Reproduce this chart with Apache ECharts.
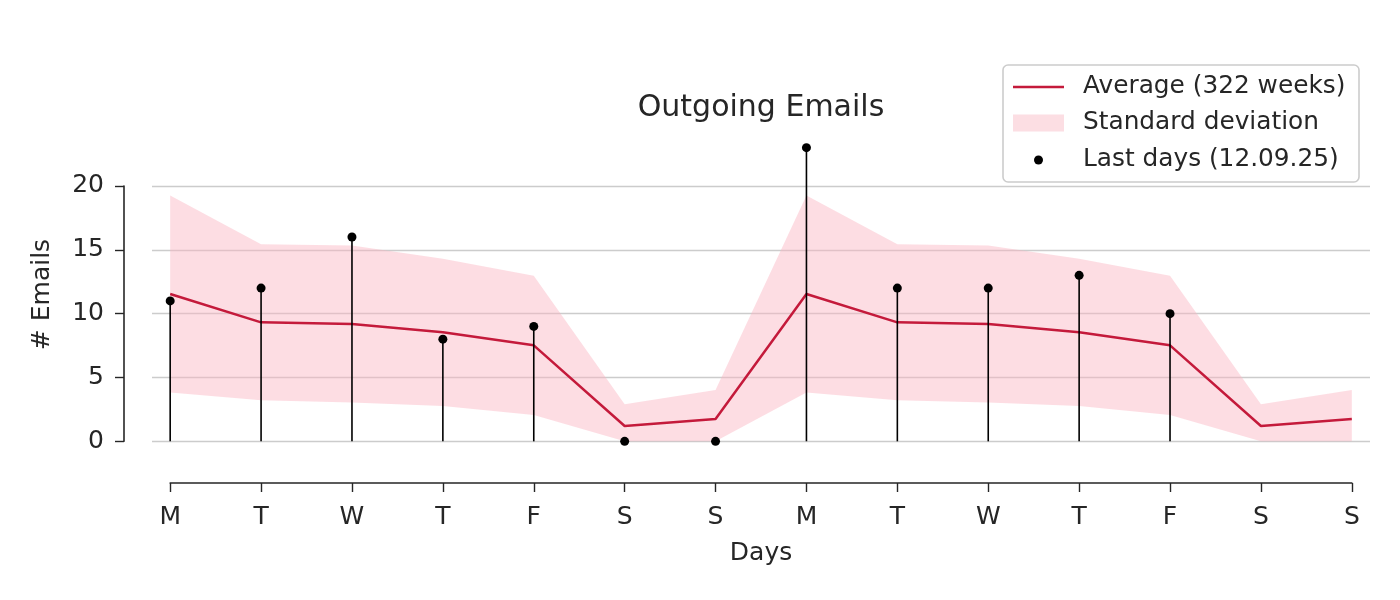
<!DOCTYPE html>
<html>
<head>
<meta charset="utf-8">
<script src="https://cdn.jsdelivr.net/npm/echarts@6/dist/echarts.min.js"></script>
<style>html,body{margin:0;padding:0;background:#fff;}#c{width:1400px;height:600px;}</style>
</head>
<body>
<div id="c"></div>
<script>
// ---- data ----
const dayLabels = ['M','T','W','T','F','S','S','M','T','W','T','F','S','S'];
const avgValues = [11.54, 9.32, 9.19, 8.54, 7.52, 1.2, 1.74, 11.54, 9.32, 9.19, 8.54, 7.52, 1.2, 1.74];
const stdValues = [7.72, 6.11, 6.14, 5.77, 5.45, 1.71, 2.27, 7.72, 6.11, 6.14, 5.77, 5.45, 1.71, 2.27];
const lastDays  = [11, 12, 16, 8, 9, 0, 0, 23, 12, 12, 13, 10, null, null];
const yTicks = [0, 5, 10, 15, 20];

// ---- layout constants ----
const FONT = 'DejaVu Sans';
const TXT = '#262626';
const RED = '#c41a3b';
const plotLeft = 152, plotRight = 30, plotTop = 133, plotBottomPx = 456;
const spineOffset = 28;
const yMin = -1.15, yMax = 24.15;
const xMin = -0.2, xMax = 13.2;
const plotH = plotBottomPx - plotTop;
function yPix(v) { return plotTop + (yMax - v) / (yMax - yMin) * plotH; }
const plotW = 1400 - plotLeft - plotRight;
function xPix(v) { return plotLeft + (v - xMin) / (xMax - xMin) * plotW; }

const idx = dayLabels.map((_, i) => i);
const lower = idx.map(i => Math.max(0, avgValues[i] - stdValues[i]));
const upper = idx.map(i => avgValues[i] + stdValues[i]);
const avgData = idx.map(i => [i, avgValues[i]]);
const lastData = idx.filter(i => lastDays[i] !== null).map(i => [i, lastDays[i]]);

const chart = echarts.init(document.getElementById('c'), null, {renderer: 'canvas'});
const legendText = (padLeft) => ({fontFamily: FONT, fontSize: 24.8, color: TXT, padding: [0, 0, 0, padLeft], lineHeight: 26});
const yTop = yPix(yTicks[yTicks.length - 1]), yBot = yPix(yTicks[0]);
const option = {
  animation: false,
  backgroundColor: '#fff',
  textStyle: {fontFamily: FONT},
  title: {
    text: 'Outgoing Emails',
    left: (plotLeft + 1400 - plotRight) / 2,
    textAlign: 'center',
    top: 93,
    padding: 0,
    textStyle: {fontFamily: FONT, fontSize: 30, fontWeight: 'normal', color: TXT}
  },
  graphic: [{
    type: 'rect', z: 3,
    shape: {x: 1003, y: 65, width: 356, height: 117, r: 5},
    style: {fill: '#fff', stroke: '#cccccc', lineWidth: 1.6}
  }],
  legend: [
    {data: [{name: 'Average (322 weeks)', icon: 'rect', itemStyle: {color: RED}}], left: 1013, top: 74, padding: 0,
     itemWidth: 51, itemHeight: 2.5, selectedMode: false, textStyle: legendText(14), z: 5},
    {data: [{name: 'Standard deviation', icon: 'rect', itemStyle: {color: '#fcdee3', opacity: 1}}], left: 1013, top: 110, padding: 0,
     itemWidth: 51, itemHeight: 17, selectedMode: false, textStyle: legendText(14), z: 5},
    {data: [{name: 'Last days (12.09.25)', icon: 'circle', itemStyle: {color: '#000'}}], left: 1034, top: 147, padding: 0,
     itemWidth: 9, itemHeight: 9, selectedMode: false, textStyle: legendText(35), z: 5}
  ],
  grid: [
    {left: plotLeft, right: plotRight, top: plotTop, bottom: 600 - plotBottomPx},
    {left: plotLeft - spineOffset, right: plotRight, top: yTop, bottom: 600 - yBot},
    {left: xPix(0), right: 1400 - xPix(dayLabels.length - 1), top: plotTop, bottom: 117},
    {left: plotLeft, right: plotRight, top: yTop, bottom: 600 - yBot}
  ],
  xAxis: [
    {gridIndex: 0, type: 'value', min: xMin, max: xMax, show: false},
    {gridIndex: 1, type: 'value', min: 0, max: 1, show: false},
    {gridIndex: 2, type: 'value', min: 0, max: dayLabels.length - 1, interval: 1,
     axisLine: {show: true, onZero: false, lineStyle: {color: TXT, width: 1.6}},
     axisTick: {show: true, length: 9, lineStyle: {color: TXT, width: 1.4}},
     axisLabel: {margin: 22, fontFamily: FONT, fontSize: 25, color: TXT,
                 formatter: v => dayLabels[Math.round(v)] || ''},
     splitLine: {show: false},
     name: 'Days', nameLocation: 'middle', nameGap: 58,
     nameTextStyle: {fontFamily: FONT, fontSize: 25, color: TXT}},
    {gridIndex: 3, type: 'value', min: 0, max: 1, show: false}
  ],
  yAxis: [
    {gridIndex: 0, type: 'value', min: yMin, max: yMax,
     axisLine: {show: false}, axisTick: {show: false}, axisLabel: {show: false}, splitLine: {show: false},
     name: '# Emails', nameLocation: 'middle', nameGap: 97,
     nameTextStyle: {fontFamily: FONT, fontSize: 25, color: TXT}},
    {gridIndex: 1, type: 'value', min: yTicks[0], max: yTicks[yTicks.length - 1], interval: 5,
     axisLine: {show: true, onZero: false, lineStyle: {color: TXT, width: 1.6}},
     axisTick: {show: true, length: 9, lineStyle: {color: TXT, width: 1.4}},
     axisLabel: {margin: 20, fontFamily: FONT, fontSize: 25, color: TXT},
     splitLine: {show: false}},
    {gridIndex: 2, type: 'value', show: false},
    {gridIndex: 3, type: 'value', min: yTicks[0], max: yTicks[yTicks.length - 1], interval: 5,
     axisLine: {show: false}, axisTick: {show: false}, axisLabel: {show: false},
     splitLine: {show: true, lineStyle: {color: '#cccccc', width: 1.4}}}
  ],
  series: [
    {type: 'custom', name: 'Standard deviation', xAxisIndex: 0, yAxisIndex: 0, data: [[0, 0]],
     itemStyle: {color: '#fcdee3'}, silent: true, z: 1,
     renderItem: (params, api) => {
       const pts = idx.map(i => api.coord([i, upper[i]]))
         .concat(idx.slice().reverse().map(i => api.coord([i, lower[i]])));
       return {type: 'polygon', shape: {points: pts}, style: {fill: 'rgba(250,180,192,0.45)'}};
     }},
    {type: 'line', name: 'Average (322 weeks)', xAxisIndex: 0, yAxisIndex: 0, data: avgData,
     symbol: 'none', lineStyle: {color: RED, width: 2.5}, itemStyle: {color: RED}, z: 3},
    {type: 'bar', name: 'stems', xAxisIndex: 0, yAxisIndex: 0, data: lastData, barWidth: 1.6,
     itemStyle: {color: '#000'}, silent: true, z: 4},
    {type: 'scatter', name: 'Last days (12.09.25)', xAxisIndex: 0, yAxisIndex: 0, data: lastData,
     symbolSize: 9, itemStyle: {color: '#000', opacity: 1}, z: 5}
  ]
};
chart.setOption(option);
</script>
</body>
</html>
